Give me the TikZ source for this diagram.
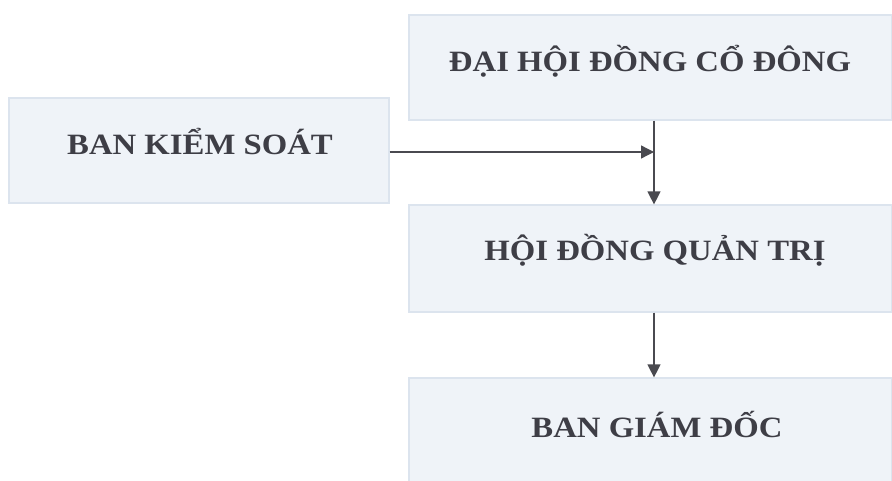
\documentclass[tikz,border=0pt]{standalone}
\usepackage{fontspec}
\setmainfont{Liberation Serif}
\usetikzlibrary{arrows.meta}
\definecolor{boxfill}{HTML}{EFF3F8}
\definecolor{boxline}{HTML}{DCE4EE}
\definecolor{ink}{HTML}{3E3E46}
\definecolor{wire}{HTML}{4A4A50}
\tikzset{
  orgbox/.style={draw=boxline, fill=boxfill, line width=1.2pt, inner sep=0pt},
  orgtext/.style={inner sep=0pt, anchor=base, text=ink,
    font=\fontsize{29.5}{34}\selectfont\bfseries\addfontfeature{FakeStretch=1.11}},
  link/.style={draw=wire, line width=1.3pt, -{Triangle[length=13pt,width=13pt]}}
}
\begin{document}
\begin{tikzpicture}[x=1pt,y=-1pt]
\useasboundingbox (0,0) rectangle (892,481);
\node[orgbox, minimum width=483pt, minimum height=105pt] (dh) at (650.5,67.5) {};
\node[orgbox, minimum width=380pt, minimum height=105pt] (bks) at (199,150.5) {};
\node[orgbox, minimum width=483pt, minimum height=107pt] (hd) at (650.5,258.5) {};
\node[orgbox, minimum width=483pt, minimum height=104pt] (bg) at (650.5,430) {};
\node[orgtext] (tdh) at (650,72) {ĐẠI HỘI ĐỒNG CỔ ĐÔNG};
\node[orgtext] (tbks) at (200,155) {BAN KIỂM SOÁT};
\node[orgtext] (thd) at (655,261) {HỘI ĐỒNG QUẢN TRỊ};
\node[orgtext] (tbg) at (657,437) {BAN GIÁM ĐỐC};
\coordinate (j) at (654,152);
\draw[link] (dh.south -| j) -- (hd.north -| j);
\draw[link] (bks.east |- j) -- (j);
\draw[link] (hd.south -| j) -- (bg.north -| j);
\end{tikzpicture}
\end{document}
